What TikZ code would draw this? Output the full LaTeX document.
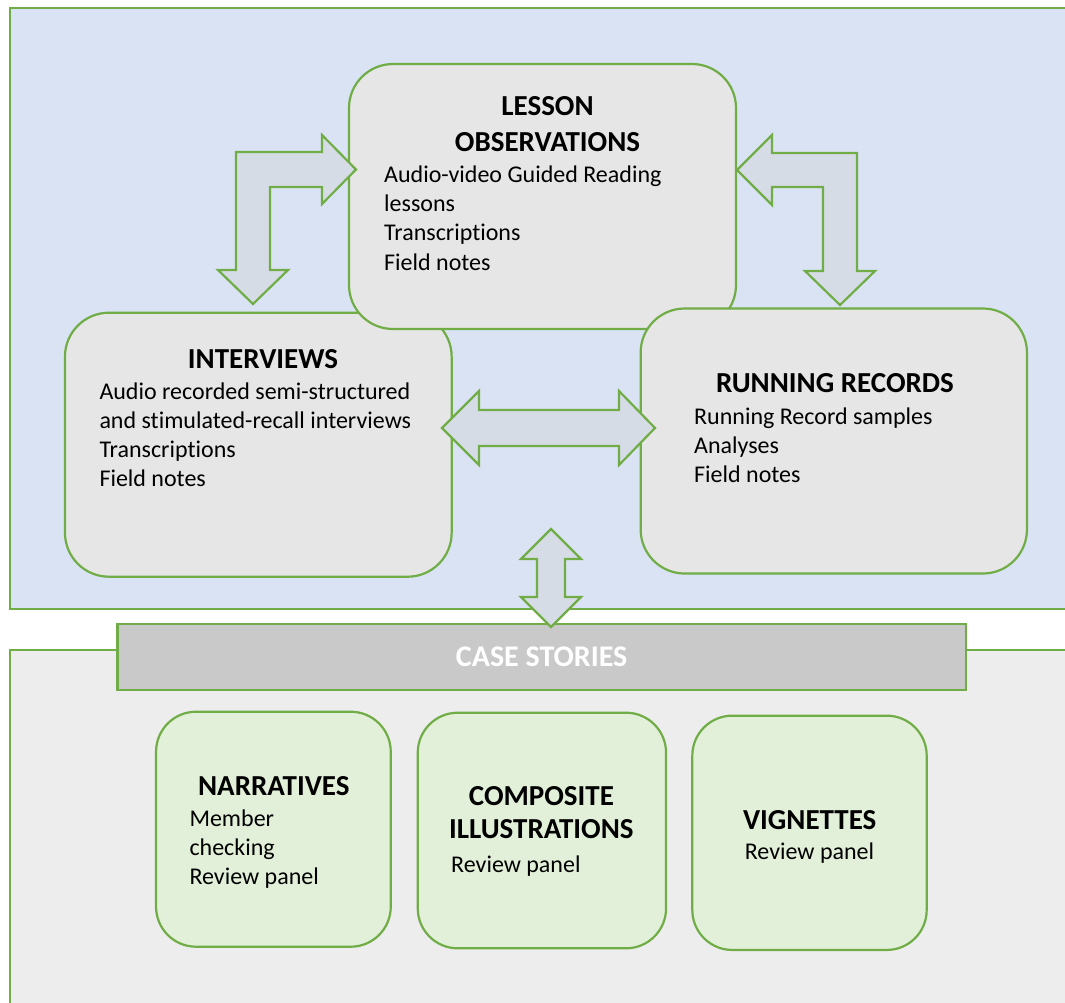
\documentclass[tikz,border=0pt]{standalone}
\usepackage{fontspec}
\setmainfont{Carlito}[Ligatures=NoCommon]
\definecolor{grn}{HTML}{70AD47}
\definecolor{toppanel}{HTML}{DAE3F3}
\definecolor{botpanel}{HTML}{EDEDED}
\definecolor{boxgray}{HTML}{E6E6E6}
\definecolor{boxgreen}{HTML}{E2F0D9}
\definecolor{arrowfill}{HTML}{D6DCE5}
\definecolor{barfill}{HTML}{C9C9C9}
\begin{document}
\begin{tikzpicture}[x=1pt,y=-1pt,
  panel/.style={draw=grn, line width=2.5pt},
  bigbox/.style={draw=grn, fill=boxgray, line width=2.2pt, rounded corners=44pt, inner sep=0pt},
  smallbox/.style={draw=grn, fill=boxgreen, line width=2.2pt, rounded corners=40pt, inner sep=0pt},
  barbox/.style={draw=grn, fill=barfill, line width=2.5pt, inner sep=0pt, text=white,
    font=\fontsize{30}{36}\selectfont\bfseries},
  blockarrow/.style={draw=grn, fill=arrowfill, line width=2.2pt, line join=miter},
  title/.style={font=\fontsize{29}{36}\selectfont\bfseries, inner sep=0pt, align=center, anchor=base},
  body/.style={font=\fontsize{24}{29.3}\selectfont, inner sep=0pt, align=left, anchor=base west},
  bodyc/.style={font=\fontsize{24}{29.3}\selectfont, inner sep=0pt, align=center, anchor=base},
]
\path[use as bounding box] (0,0) rectangle (1065,1002);
\clip (0,0) rectangle (1065,1002);
\fill[white] (0,0) rectangle (1065,1002);

% panels
\draw[panel, fill=toppanel] (10,8) rectangle (1090,609);
\draw[panel, fill=botpanel] (10,650) rectangle (1090,1030);

% case stories bar
\node[barbox, minimum width=848.7pt, minimum height=66pt] (cs) at (541.6,657) {CASE STORIES};

% upper boxes
\node[bigbox, minimum width=386.7pt, minimum height=264pt] (intv) at (258.3,444.7) {};
\node[bigbox, minimum width=387pt, minimum height=265pt] (lesson) at (542.5,196.5) {};
\node[bigbox, minimum width=386.3pt, minimum height=265pt] (rr) at (833.8,441) {};

% texts of upper boxes (multi-line nodes are anchored at the baseline of their last line)
\node[title] (lessonT) at (547.5,151.7) {LESSON\\OBSERVATIONS};
\node[body] (lessonB) at (384,270.2) {Audio-video Guided Reading\\lessons\\Transcriptions\\Field notes};
\node[title] (intvT) at (263,368.3) {INTERVIEWS};
\node[body] (intvB) at (99.3,486.9) {Audio recorded semi-structured\\and stimulated-recall interviews\\Transcriptions\\Field notes};
\node[title] (rrT) at (835,392.3) {RUNNING RECORDS};
\node[body] (rrB) at (694,482.6) {Running Record samples\\Analyses\\Field notes};

% lower boxes
\node[smallbox, minimum width=234.7pt, minimum height=235pt] (narr) at (273.4,829.2) {};
\node[smallbox, minimum width=248.3pt, minimum height=235.6pt] (comp) at (541.9,830.5) {};
\node[smallbox, minimum width=234.4pt, minimum height=234.3pt] (vign) at (809.5,832.8) {};

\node[title] (narrT) at (273.8,795) {NARRATIVES};
\node[body] (narrB) at (189.3,884.6) {Member\\checking\\Review panel};
\node[title, font=\fontsize{29}{33.3}\selectfont\bfseries] (compT) at (541.4,838.3) {COMPOSITE\\ILLUSTRATIONS};
\node[body] (compB) at (451,872.7) {Review panel};
\node[title] (vignT) at (809.7,829) {VIGNETTES};
\node[bodyc] (vignB) at (809.5,859.3) {Review panel};

% block arrows
\draw[blockarrow] (236,152) -- (322,152) -- (322,135) -- (356,169.5) -- (322,204) -- (322,187)
  -- (270,187) -- (270,270) -- (288,270) -- (253,304) -- (218,270) -- (236,270) -- cycle;
\draw[blockarrow] (737,170) -- (772,135) -- (772,153) -- (857,153) -- (857,271) -- (875,271)
  -- (840,305) -- (805,271) -- (823,271) -- (823,187) -- (772,187) -- (772,205) -- cycle;
\draw[blockarrow] (442,428) -- (479,391) -- (479,410) -- (619,410) -- (619,391) -- (655,428)
  -- (619,465) -- (619,446) -- (479,446) -- (479,465) -- cycle;
\draw[blockarrow] (551,529) -- (581,559) -- (565,559) -- (565,597) -- (581,597) -- (551,627)
  -- (521,597) -- (537,597) -- (537,559) -- (521,559) -- cycle;
\end{tikzpicture}
\end{document}
